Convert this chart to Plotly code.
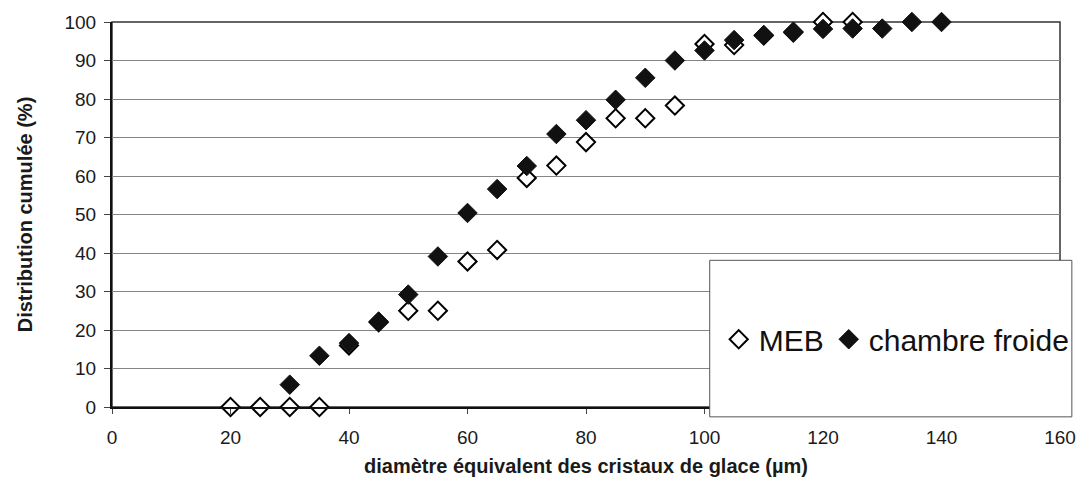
import plotly.graph_objects as go

# Cumulative ice-crystal size distribution: SEM (MEB) vs. cold-room measurements
meb_diam = [20, 25, 30, 35, 40, 45, 50, 55, 60, 65, 70, 75, 80, 85, 90, 95,
            100, 105, 110, 115, 120, 125]
meb_cum = [0, 0, 0, 0, 16, 22, 25, 25, 37.8, 40.8, 59.5, 62.7, 68.8, 75, 75, 78.3,
           94.3, 94, 96.5, 97.3, 100, 100]

cf_diam = [30, 35, 40, 45, 50, 55, 60, 65, 70, 75, 80, 85, 90, 95,
           100, 105, 110, 115, 120, 125, 130, 135, 140]
cf_cum = [5.8, 13.3, 16.6, 22.2, 29.2, 39.1, 50.4, 56.6, 62.6, 70.9, 74.5, 79.8, 85.5, 90,
          92.6, 95.3, 96.6, 97.5, 98.2, 98.3, 98.3, 100, 100]

x_ticks = [0, 20, 40, 60, 80, 100, 120, 140, 160]
y_ticks = [0, 10, 20, 30, 40, 50, 60, 70, 80, 90, 100]

FONT = "Liberation Sans, Arial, sans-serif"

fig = go.Figure()
fig.add_trace(go.Scatter(
    x=meb_diam, y=meb_cum, mode="markers", name="MEB", cliponaxis=False,
    marker=dict(symbol="diamond", size=14, color="white",
                line=dict(color="black", width=2)),
))
fig.add_trace(go.Scatter(
    x=cf_diam, y=cf_cum, mode="markers", name="chambre froide", cliponaxis=False,
    marker=dict(symbol="diamond", size=15, color="#111111",
                line=dict(color="#111111", width=1)),
))

# legend frame: white box overlapping the lower-right corner of the plot
fig.add_shape(type="rect", xref="paper", yref="paper",
              x0=0.6305, x1=1.0125, y0=-0.0256, y1=0.381,
              fillcolor="white", line=dict(color="#555555", width=1),
              layer="above")
# outer frame of the plotting area
fig.add_shape(type="rect", xref="paper", yref="paper",
              x0=0, x1=1, y0=0, y1=1,
              line=dict(color="#333333", width=1.5), layer="below")

fig.update_layout(
    width=1088, height=486,
    margin=dict(l=112, r=18, t=18, b=77),
    paper_bgcolor="white", plot_bgcolor="white",
    font=dict(family=FONT, color="#1a1a1a", size=19),
    showlegend=True,
    legend=dict(orientation="h", x=0.640, xanchor="left",
                y=0.176, yanchor="middle",
                bgcolor="rgba(0,0,0,0)", borderwidth=0,
                font=dict(size=30, family=FONT, color="#111111"),
                itemsizing="trace"),
    xaxis=dict(range=[0, 160], tickvals=x_ticks, ticktext=[str(v) for v in x_ticks],
               showgrid=False, zeroline=False,
               showline=True, linecolor="#111111", linewidth=2,
               ticks="outside", ticklen=5, tickcolor="#444444",
               tickfont=dict(size=19), ticklabelstandoff=7,
               title=dict(text="<b>diamètre équivalent des cristaux de glace (µm)</b>",
                          font=dict(size=20), standoff=12)),
    yaxis=dict(range=[0, 100], tickvals=y_ticks, ticktext=[str(v) for v in y_ticks],
               showgrid=True, gridcolor="#858585", gridwidth=1,
               zeroline=False,
               showline=True, linecolor="#111111", linewidth=2,
               ticks="outside", ticklen=6, tickcolor="#444444",
               tickfont=dict(size=19), ticklabelstandoff=4,
               title=dict(text="<b>Distribution cumulée (%)</b>",
                          font=dict(size=20), standoff=26)),
)

fig.write_html("out.html")
